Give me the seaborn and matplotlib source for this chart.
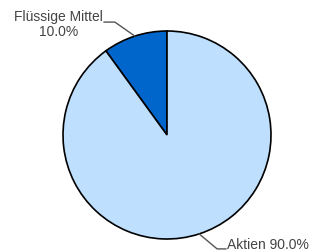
import numpy as np
import matplotlib
matplotlib.use("Agg")
import matplotlib.pyplot as plt
import seaborn as sns

# Daten
kategorien = ["Flüssige Mittel", "Aktien"]
anteile = [10.0, 90.0]
farben = ["#0066cc", "#bfdfff"]

sns.set_theme(style="white")
plt.rcParams["font.family"] = ["Liberation Sans", "DejaVu Sans"]

W, H = 311, 253
fig = plt.figure(figsize=(W / 100, H / 100), dpi=100)
ax = fig.add_axes([0, 0, 1, 1])

cx, cy, r = 167, 136, 104
# y-Achse ist invertiert: startangle=270 zeigt auf dem Bild nach oben,
# counterclock=False läuft auf dem Bild gegen den Uhrzeigersinn
wedges, _ = ax.pie(anteile, colors=farben, startangle=270, counterclock=False,
                   center=(cx, cy), radius=r,
                   wedgeprops=dict(edgecolor="black", linewidth=1.2))
ax.set_xlim(0, W)
ax.set_ylim(H, 0)
ax.set_aspect("equal")
ax.axis("off")

textfarbe = "#444444"
linien = "#555555"

# Beschriftungen mit Führungslinien
for w, name, val in zip(wedges, kategorien, anteile):
    mid = np.deg2rad((w.theta1 + w.theta2) / 2)
    px = cx + r * np.cos(mid)
    py = cy + r * np.sin(mid)
    if px < cx:
        ex, ey = px - 20, py - 14
        ax.plot([px, ex, ex - 11], [py, ey, ey], color=linien, lw=1)
        ax.text(ex - 12, ey + 1.5, f"{name}\n{val:.1f}%", ha="right", va="center",
                multialignment="center", color=textfarbe, fontsize=10,
                linespacing=1.05)
    else:
        ex, ey = px + 18, py + 15
        ax.plot([px, ex, ex + 9], [py, ey, ey], color=linien, lw=1)
        ax.text(ex + 10, ey - 5, f"{name} {val:.1f}%", ha="left", va="center",
                color=textfarbe, fontsize=10)

fig.savefig("out.png", dpi=100)
